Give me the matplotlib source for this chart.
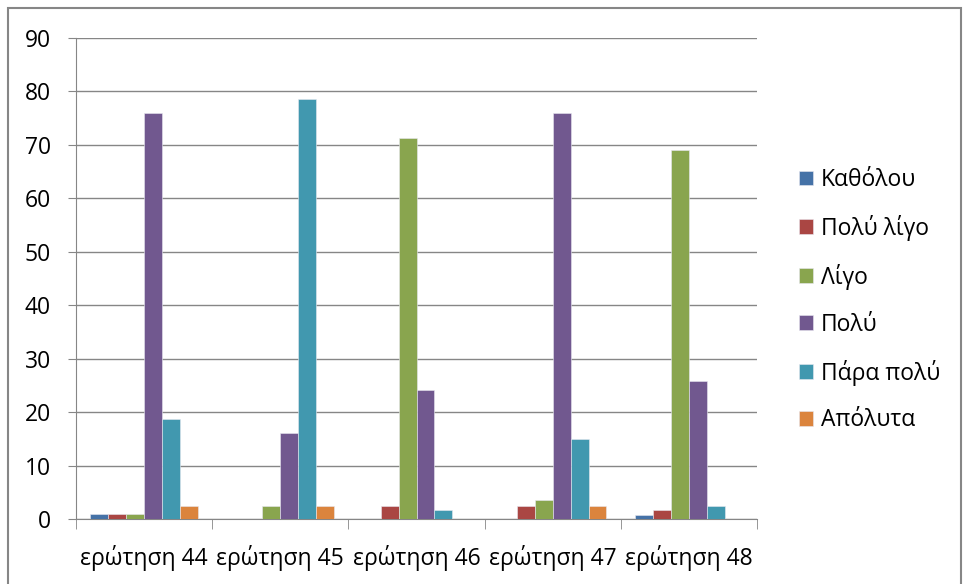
import numpy as np
import matplotlib.pyplot as plt
from matplotlib.patches import Rectangle

plt.rcParams['font.family'] = ['Open Sans', 'DejaVu Sans']

questions = ['ερώτηση 44', 'ερώτηση 45', 'ερώτηση 46', 'ερώτηση 47', 'ερώτηση 48']
answers = ['Καθόλου', 'Πολύ λίγο', 'Λίγο', 'Πολύ', 'Πάρα πολύ', 'Απόλυτα']

katholou = [0.9, 0, 0, 0, 0.8]
poly_ligo = [0.9, 0, 2.5, 2.5, 1.7]
ligo = [0.9, 2.5, 71.3, 3.5, 69.0]
poly = [76.0, 16.0, 24.2, 76.0, 25.9]
para_poly = [18.7, 78.5, 1.7, 15.0, 2.5]
apolyta = [2.5, 2.5, 0, 2.5, 0]

series = [katholou, poly_ligo, ligo, poly, para_poly, apolyta]
colors = ['#4572A7', '#AA4643', '#89A54E', '#71588F', '#4198AF', '#DB843D']

fig = plt.figure(figsize=(9.69, 5.84), dpi=100)
ax = fig.add_axes([76 / 969, 1 - 519 / 584, (757 - 76) / 969, (519 - 38) / 584])

x = np.arange(len(questions))
width = 0.79 / len(series)
for i, (vals, c) in enumerate(zip(series, colors)):
    ax.bar(x - 0.395 + width * (i + 0.5), vals, width, color=c, label=answers[i],
           edgecolor='#E8E8F0', linewidth=0.4, zorder=3)

ax.set_xlim(-0.5, len(questions) - 0.5)
ax.set_ylim(0, 90)
ax.set_yticks(range(0, 91, 10))
ax.set_xticks(x)
ax.set_xticklabels(questions)
ax.set_xticks(np.arange(-0.5, len(questions)), minor=True)
ax.tick_params(axis='x', which='major', length=0, pad=19, labelsize=16.5)
ax.tick_params(axis='x', which='minor', length=7, color='#868686')
ax.tick_params(axis='y', length=6, color='#868686', labelsize=16.5, pad=12)
ax.grid(axis='y', color='#868686', linewidth=1, zorder=0)
for side in ['top', 'right']:
    ax.spines[side].set_visible(False)
ax.spines['left'].set_color('#868686')
ax.spines['bottom'].set_color('#868686')

ax.legend(loc='center left', bbox_to_anchor=(799 / 969, 0.486), bbox_transform=fig.transFigure,
          frameon=False, fontsize=16.5, handlelength=0.6, handleheight=0.6,
          handletextpad=0.35, labelspacing=1.0, borderaxespad=0, borderpad=0)

fig.patches.append(Rectangle((8 / 969, -0.05), 953 / 969, 1.05 - 8 / 584, transform=fig.transFigure,
                             fill=False, edgecolor='#868686', linewidth=1.5))

fig.savefig('out.png', dpi=100)
